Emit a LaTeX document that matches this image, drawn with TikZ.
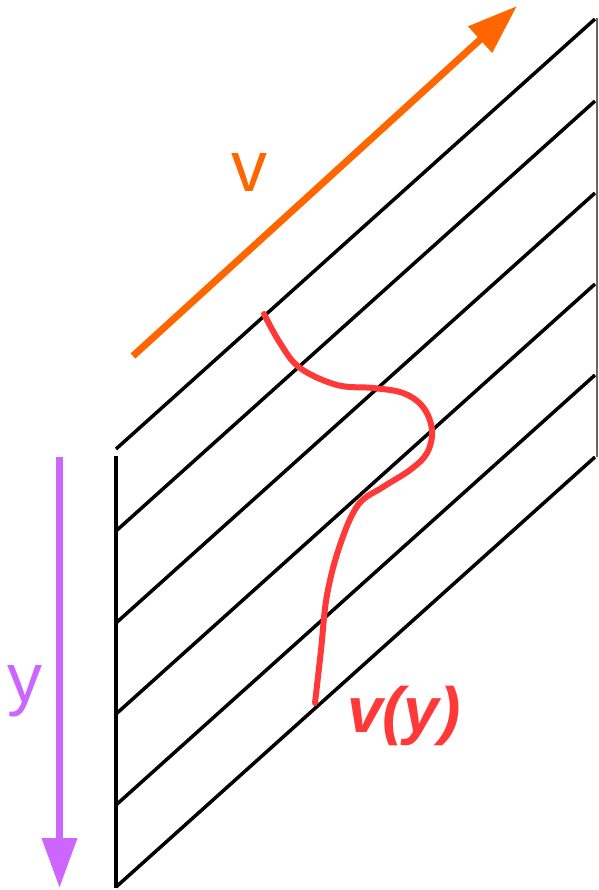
\documentclass[tikz,border=0pt]{standalone}
\usepackage{fontspec}
\setmainfont{Liberation Sans}
\usetikzlibrary{arrows.meta}
\definecolor{vorange}{HTML}{FF6600}
\definecolor{ypurple}{HTML}{CC66FF}
\definecolor{profred}{HTML}{FF3838}
\tikzset{
  plate/.style={line width=3.5pt, black},
  edgeline/.style={line width=1.5pt, black!60},
  bigarrow/.style={line width=7pt, -{Triangle[length=50pt,width=34pt]}},
  profile/.style={line width=6pt, profred, line cap=round},
  lbl/.style={inner sep=0pt, anchor=base}
}
\begin{document}
\begin{tikzpicture}[x=1pt,y=-1pt]
\useasboundingbox (0,0) rectangle (598,890);
% plate edges
\coordinate (vt) at (116,456);
\coordinate (vb) at (116,888);
\draw[plate] (vt) -- (vb);
\coordinate (rt) at (597,18);
\coordinate (rb) at (597,457);
\draw[edgeline] (rt) -- (rb);
% diagonal lines
\foreach \i/\L in {1/449,2/531,3/623,4/714,5/805,6/887}{
  \coordinate (l\i) at (116,\L);
  \coordinate (r\i) at (595,\L-430);
  \draw[plate] (l\i) -- (r\i);
}
% velocity arrow
\coordinate (va) at (133,356);
\coordinate (vbb) at (517,6);
\draw[bigarrow, vorange] (va) -- (vbb);
\node[lbl, text=vorange, font=\fontsize{72}{72}\selectfont] (vlab) at (249,192) {v};
% y arrow
\coordinate (ya) at (59.5,457);
\coordinate (yb) at (59.5,888);
\draw[bigarrow, ypurple] (ya) -- (yb);
\node[lbl, text=ypurple, font=\fontsize{70}{70}\selectfont] (ylab) at (25,702) {y};
% velocity profile
\draw[profile] plot[smooth, tension=0.6] coordinates {
 (264,314) (280,343) (300,368) (337,385) (373,388) (403,393) (423,407)
 (432,430) (427,453) (410,470) (383,487) (358,505) (340,545)
 (327,595) (321,650) (315,703)};
\node[lbl, text=profred, font=\fontsize{64}{64}\selectfont\bfseries\itshape] (vylab) at (404,732) {v(y)};
\end{tikzpicture}
\end{document}
